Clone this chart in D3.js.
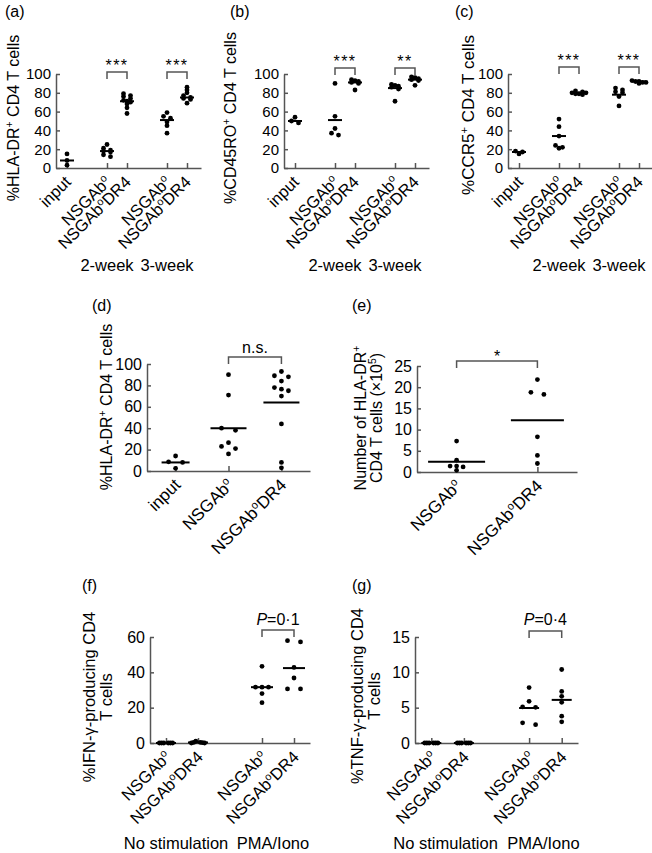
<!DOCTYPE html>
<html>
<head>
<meta charset="utf-8">
<script src="https://cdn.jsdelivr.net/npm/d3@7"></script>
<style>
  body { margin: 0; background: #fff; }
  svg { display: block; font-family: "Liberation Sans", Arial, Helvetica, sans-serif; }
</style>
</head>
<body>
<div id="chart"></div>
<script>
// ---------- data ----------
// {x} marks a superscript
var catsABC = ["input", "NSGAb{o}", "NSGAb{o}DR4", "NSGAb{o}", "NSGAb{o}DR4"];
var weeks = ["2-week", "3-week"];

var valsA = [
  [15, 8, 3],
  [25, 21, 19, 18, 17, 14, 12],
  [79, 77, 76, 74, 72, 71, 70, 68, 64, 58],
  [59, 55, 53, 49, 45, 37],
  [86, 83, 80, 77, 75, 74, 73, 69]
];
var meansA = [8, 18, 71, 51, 75];

var valsB = [
  [54, 50, 48],
  [90, 55, 42, 37, 35],
  [94, 93, 92, 91, 90, 83],
  [89, 88, 87, 86, 84, 71],
  [97, 96, 95, 94, 93, 88]
];
var meansB = [50, 51, 91, 85, 94];

var valsC = [
  [18, 17, 15],
  [52, 44, 34, 24, 22, 21],
  [82, 81, 80, 80, 79, 79, 78],
  [85, 83, 81, 80, 76, 66],
  [93, 92, 92, 91, 91, 90]
];
var meansC = [17, 34, 80, 78, 92];

var catsD = ["input", "NSGAb{o}", "NSGAb{o}DR4"];
var valsD = [
  [14, 8.6, 8, 2.5],
  [90, 71, 40, 38, 26.5, 23, 21, 16],
  [93, 89, 88, 84, 78, 76.5, 75, 70, 44, 8, 3]
];
var meansD = [8, 40, 64];

var catsE = ["NSGAb{o}", "NSGAb{o}DR4"];
var valsE = [
  [7.3, 2.8, 1.4, 1.2, 1.4, 0.4],
  [21.8, 18.8, 18.3, 8.3, 3.9, 2.0]
];
var meansE = [2.4, 12.2];

var catsFG = ["NSGAb{o}", "NSGAb{o}DR4", "NSGAb{o}", "NSGAb{o}DR4"];
var stimGroups = ["No stimulation", "PMA/Iono"];

var valsF = [
  [0, 0, 0, 0, 0, 0],
  [0, 0.3, 1, 0.2, 0.4, 0],
  [43.4, 31.6, 31.6, 31.6, 28, 22.8],
  [57.9, 57.2, 42.8, 36.8, 30.6, 30.6]
];
var meansF = [0, 0.3, 31.6, 42.4];

var valsG = [
  [0, 0, 0, 0, 0, 0],
  [0, 0, 0, 0, 0, 0],
  [7.85, 5.9, 5.1, 5.05, 2.6, 2.85],
  [10.4, 7.3, 6.6, 5.75, 3.8, 3.0]
];
var meansG = [0, 0, 4.95, 6.1];

var ticks100 = [0, 20, 40, 60, 80, 100];
var ticksE = [0, 5, 10, 15, 20, 25];
var ticksF = [0, 20, 40, 60];
var ticksG = [0, 5, 10, 15];

// ---------- layout ----------
var width = 652, height = 853;
var axisColor = "#555";

var svg = d3.select("#chart").append("svg")
  .attr("width", width)
  .attr("height", height);

// write "NSGAb{o}DR4" style strings with superscripts
function rich(sel, str) {
  var parts = str.split(/(\{[^}]*\})/);
  var up = false;
  parts.forEach(function(p) {
    if (!p) return;
    if (p[0] === "{") {
      sel.append("tspan").attr("font-size", "65%").attr("dy", "-0.55em").text(p.slice(1, -1));
      up = true;
    } else {
      sel.append("tspan").attr("dy", up ? "0.36em" : null).text(p);
      up = false;
    }
  });
}

// Prism-like rows: points closer than `gap` px share a row and spread sideways
function rowOffsets(vals, y, sep, gap) {
  var idx = vals.map(function(v, i) { return i; });
  idx.sort(function(a, b) { return vals[b] - vals[a]; });
  var off = vals.map(function() { return 0; });
  var rows = [], cur = null;
  idx.forEach(function(i) {
    if (cur && y(vals[i]) - y(vals[cur[0]]) <= gap) cur.push(i);
    else { cur = [i]; rows.push(cur); }
  });
  rows.forEach(function(r) {
    var n = r.length;
    r.forEach(function(i, k) {
      if (n % 2) off[i] = (k - (n - 1) / 2) * sep;
      else off[i] = (k % 2 ? 1 : -1) * (Math.floor(k / 2) + 1) * sep;
    });
  });
  return off;
}

function drawPanel(p) {
  var g = svg.append("g");

  var y = d3.scaleLinear().domain([p.ticks[0], p.ticks[p.ticks.length - 1]]).range([p.yBot, p.yTop]);
  var x, pos, xAxis;
  if (p.slots) {
    x = d3.scaleLinear().domain([0, p.slotMax]).range([p.x0, p.x1]);
    pos = function(i) { return x(p.slots[i]); };
    xAxis = d3.axisBottom(x).tickValues(p.slots);
  } else {
    x = d3.scalePoint().domain(d3.range(p.cats.length)).range([p.x0, p.x1]).padding(p.pad);
    pos = function(i) { return x(i); };
    xAxis = d3.axisBottom(x);
  }

  // panel tag
  g.append("text").attr("x", p.tagX).attr("y", p.tagY)
    .attr("font-size", 16).text(p.tag);

  // axes
  var gx = g.append("g")
    .attr("transform", "translate(0," + p.yBot + ")")
    .call(xAxis.tickSizeInner(-5).tickSizeOuter(0).tickFormat(""));
  var gy = g.append("g")
    .attr("transform", "translate(" + p.x0 + ",0)")
    .call(d3.axisLeft(y).tickValues(p.ticks).tickSizeInner(-4).tickSizeOuter(0).tickPadding(5));
  [gx, gy].forEach(function(a) {
    a.select(".domain").attr("stroke", axisColor).attr("stroke-width", 1.5);
    a.selectAll(".tick line").attr("stroke", axisColor).attr("stroke-width", 1.5);
  });
  gy.selectAll(".tick text")
    .attr("font-size", p.tickFs)
    .attr("font-family", "Liberation Sans, Arial, sans-serif")
    .attr("fill", "#000");

  // category labels, rotated
  p.cats.forEach(function(c, i) {
    var t = g.append("text")
      .attr("font-size", p.catFs)
      .attr("text-anchor", "end")
      .attr("transform", "translate(" + (pos(i) + p.catDx) + "," + (p.yBot + p.catDy) + ") rotate(-45)");
    rich(t, c);
  });

  // y label (one or two lines)
  p.yLabel.forEach(function(line, k) {
    var t = g.append("text")
      .attr("font-size", p.yFs)
      .attr("text-anchor", "middle")
      .attr("transform", "translate(" + p.yLabelX[k] + "," + p.yLabelY + ") rotate(-90)");
    rich(t, line);
  });

  // points
  p.vals.forEach(function(vs, i) {
    var sep = (p.sepCat && p.sepCat[i]) || p.sep;
    var off = rowOffsets(vs, y, sep, p.rowGap);
    g.selectAll(null)
      .data(vs)
      .enter()
      .append("circle")
      .attr("cx", function(d, j) { return pos(i) + off[j]; })
      .attr("cy", function(d) { return y(d); })
      .attr("r", 2.4)
      .attr("fill", "#000");
  });

  // mean lines
  g.selectAll(null)
    .data(p.means)
    .enter()
    .append("line")
    .attr("x1", function(d, i) { return pos(i) - p.meanW[i] / 2; })
    .attr("x2", function(d, i) { return pos(i) + p.meanW[i] / 2; })
    .attr("y1", function(d) { return y(d); })
    .attr("y2", function(d) { return y(d); })
    .attr("stroke", "#000")
    .attr("stroke-width", 2);

  // significance brackets
  p.sig.forEach(function(s) {
    var top = p.yTop + s.dy;
    var xa = pos(s.from), xb = pos(s.to);
    g.append("path")
      .attr("d", "M" + xa + "," + (top + 7) + "V" + top + "H" + xb + "V" + (top + 7))
      .attr("fill", "none")
      .attr("stroke", axisColor)
      .attr("stroke-width", 1.5);
    var t = g.append("text")
      .attr("x", (xa + xb) / 2)
      .attr("y", top - s.pad)
      .attr("text-anchor", "middle")
      .attr("font-size", 16);
    if (s.italicP) {
      t.append("tspan").attr("font-style", "italic").text("P");
      t.append("tspan").text(s.text);
    } else {
      t.attr("letter-spacing", s.ls || 0).text(s.text);
    }
  });

  // group labels under the rotated labels
  if (p.groups) {
    p.groups.forEach(function(gname, k) {
      var a = pos(p.groupCats[k][0]), b = pos(p.groupCats[k][1]);
      g.append("text")
        .attr("x", (a + b) / 2 + p.groupDx[k])
        .attr("y", p.groupY)
        .attr("text-anchor", "middle")
        .attr("font-size", 16.5)
        .text(gname);
    });
  }
}

var slotsABC = [0.55, 2.55, 3.55, 5.55, 6.55];
var slotsFG = [0.5, 1.5, 3.5, 4.5];

var common = {
  yTop: 74, yBot: 168, ticks: ticks100, slots: slotsABC, slotMax: 7.25,
  cats: catsABC, meanW: [14, 14, 14, 14, 14], sep: 3.5, rowGap: 2.5,
  tickFs: 15, catFs: 16.5, yFs: 16, catDx: 5, catDy: 15, yLabelY: 118,
  groups: weeks, groupCats: [[1, 2], [3, 4]], groupDx: [-10, -10], groupY: 271
};

var panels = [
  Object.assign({}, common, {
    tag: "(a)", tagX: 5, tagY: 17, x0: 56, x1: 201,
    vals: valsA, means: meansA, yLabel: ["%HLA-DR{+} CD4 T cells"], yLabelX: [19],
    sig: [{ from: 1, to: 2, text: "***", dy: -2, pad: 1, ls: 1.5 }, { from: 3, to: 4, text: "***", dy: -2, pad: 1, ls: 1.5 }]
  }),
  Object.assign({}, common, {
    tag: "(b)", tagX: 230, tagY: 17, x0: 284, x1: 429,
    vals: valsB, means: meansB, yLabel: ["%CD45RO{+} CD4 T cells"], yLabelX: [236],
    sig: [{ from: 1, to: 2, text: "***", dy: -6, pad: 1, ls: 1.5 }, { from: 3, to: 4, text: "**", dy: -6, pad: 1, ls: 1.5 }]
  }),
  Object.assign({}, common, {
    tag: "(c)", tagX: 455, tagY: 17, x0: 508, x1: 653, yFs: 17, yLabelY: 115,
    vals: valsC, means: meansC, yLabel: ["%CCR5{+} CD4 T cells"], yLabelX: [474],
    sig: [{ from: 1, to: 2, text: "***", dy: -7, pad: 1, ls: 1.5 }, { from: 3, to: 4, text: "***", dy: -7, pad: 1, ls: 1.5 }]
  }),
  {
    tag: "(d)", tagX: 92, tagY: 311, x0: 147, x1: 310, pad: 0.54,
    yTop: 364, yBot: 471, ticks: ticks100, cats: catsD, vals: valsD, means: meansD,
    meanW: [28, 36, 36], sep: 7, rowGap: 3.5,
    tickFs: 16, catFs: 17, yFs: 16, catDx: 6, catDy: 15,
    yLabel: ["%HLA-DR{+} CD4 T cells"], yLabelX: [112], yLabelY: 407,
    sig: [{ from: 1, to: 2, text: "n.s.", dy: -7, pad: 4 }]
  },
  {
    tag: "(e)", tagX: 352, tagY: 311, x0: 417, x1: 577, pad: 0.49,
    yTop: 366, yBot: 472, ticks: ticksE, cats: catsE, vals: valsE, means: meansE,
    meanW: [57, 53], sep: 6.5, rowGap: 3.5,
    tickFs: 16, catFs: 17, yFs: 16, catDx: 6, catDy: 15,
    yLabel: ["Number of HLA-DR{+}", "CD4 T cells (\u00d710{5})"], yLabelX: [366, 382], yLabelY: 418,
    sig: [{ from: 0, to: 1, text: "*", dy: -5, pad: -1 }]
  },
  {
    tag: "(f)", tagX: 82, tagY: 591, x0: 150, x1: 310, slots: slotsFG, slotMax: 5,
    yTop: 637, yBot: 743, ticks: ticksF, cats: catsFG, vals: valsF, means: meansF,
    meanW: [20, 20, 22, 22], sep: 6.5, sepCat: [2.2, 2.2], rowGap: 3.5,
    tickFs: 16, catFs: 16.5, yFs: 16.5, catDx: 6, catDy: 15,
    yLabel: ["%IFN-\u03b3-producing CD4", "T cells"], yLabelX: [95, 112], yLabelY: 697,
    sig: [{ from: 2, to: 3, text: "=0\u00b71", italicP: true, dy: -7, pad: 5 }],
    groups: stimGroups, groupCats: [[0, 1], [2, 3]], groupDx: [-6, -5], groupY: 849
  },
  {
    tag: "(g)", tagX: 352, tagY: 591, x0: 415, x1: 578, slots: slotsFG, slotMax: 5,
    yTop: 637, yBot: 743, ticks: ticksG, cats: catsFG, vals: valsG, means: meansG,
    meanW: [20, 20, 20, 20], sep: 6.5, sepCat: [2.2, 2.2], rowGap: 3.5,
    tickFs: 16, catFs: 16.5, yFs: 16.5, catDx: 6, catDy: 15,
    yLabel: ["%TNF-\u03b3-producing CD4", "T cells"], yLabelX: [363, 380], yLabelY: 696,
    sig: [{ from: 2, to: 3, text: "=0\u00b74", italicP: true, dy: -6, pad: 6 }],
    groups: stimGroups, groupCats: [[0, 1], [2, 3]], groupDx: [-2, -2], groupY: 849
  }
];

panels.forEach(drawPanel);
</script>
</body>
</html>
